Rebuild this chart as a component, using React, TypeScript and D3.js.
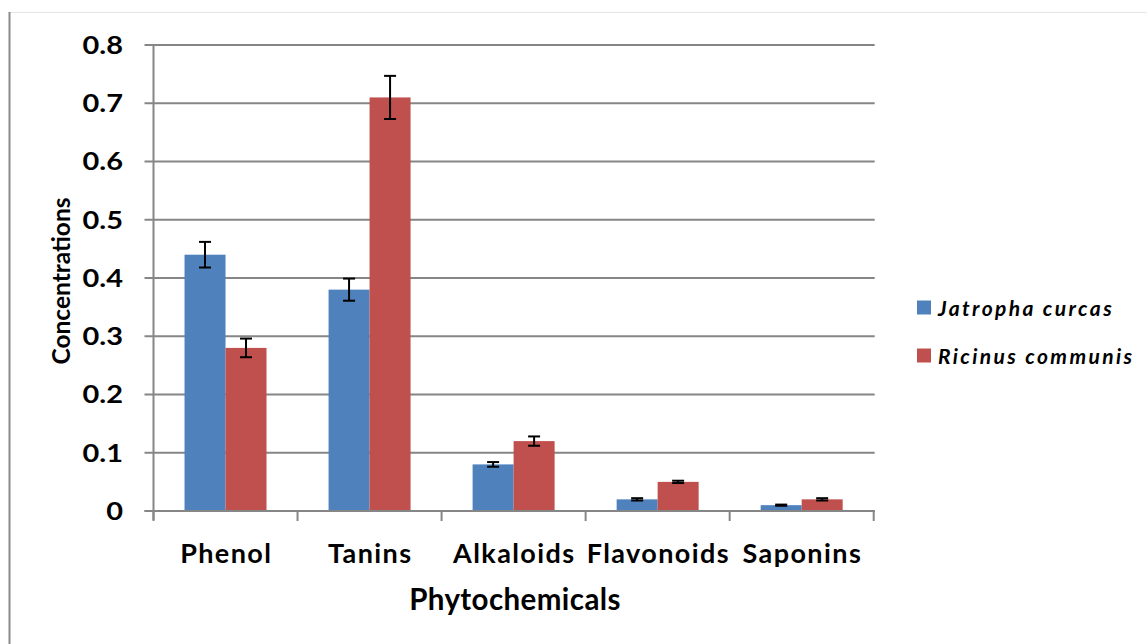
import React, { useEffect, useRef } from "react";
import * as d3 from "d3";

const categories = ["Phenol", "Tanins", "Alkaloids", "Flavonoids", "Saponins"];
const seriesNames = ["Jatropha curcas", "Ricinus communis"];
const jatropha = [0.44, 0.38, 0.08, 0.02, 0.01];
const ricinus = [0.28, 0.71, 0.12, 0.05, 0.02];
const jatrophaErr = [0.022, 0.019, 0.004, 0.002, 0.001];
const ricinusErr = [0.016, 0.037, 0.008, 0.002, 0.002];
const yTicks = [0, 0.1, 0.2, 0.3, 0.4, 0.5, 0.6, 0.7, 0.8];
const colors = ["#4F81BD", "#C0504D"];

const W = 1147;
const H = 644;
const FONT = "Lato, 'Open Sans', sans-serif";

export default function App() {
  const ref = useRef<SVGSVGElement>(null);

  useEffect(() => {
    const svg = d3.select(ref.current);
    svg.selectAll("*").remove();

    const left = 153.5, right = 873.7, top = 45, bottom = 511;
    const x = d3.scaleBand().domain(categories).range([left, right]).paddingInner(0).paddingOuter(0);
    const y = d3.scaleLinear().domain([0, 0.8]).range([bottom, top]);
    const inner = d3.scaleBand().domain(seriesNames).range([0, 82]);
    const values = [jatropha, ricinus];
    const errs = [jatrophaErr, ricinusErr];

    // frame
    svg.append("line").attr("x1", 8).attr("x2", W).attr("y1", 12.5).attr("y2", 12.5)
      .attr("stroke", "#e6e6e6").attr("stroke-width", 1);
    svg.append("line").attr("x1", 9.5).attr("x2", 9.5).attr("y1", 12).attr("y2", H)
      .attr("stroke", "#8a8a8a").attr("stroke-width", 2);

    // gridlines + y ticks
    const g = svg.append("g");
    yTicks.forEach((t) => {
      g.append("line").attr("x1", left - 9).attr("x2", right + 1).attr("y1", y(t)).attr("y2", y(t))
        .attr("stroke", "#868686").attr("stroke-width", 2);
      g.append("text")
        .attr("transform", `translate(123,${y(t)}) scale(1.18,1)`)
        .attr("dy", "0.36em")
        .attr("text-anchor", "end").attr("font-family", FONT).attr("font-weight", "bold")
        .attr("font-size", 24.5).attr("fill", "#000").text(t === 0 ? "0" : d3.format(".1f")(t));
    });
    // y axis line
    g.append("line").attr("x1", left).attr("x2", left).attr("y1", top).attr("y2", bottom + 9)
      .attr("stroke", "#868686").attr("stroke-width", 2);
    // x ticks
    const bounds = categories.map((c) => x(c)!).concat([right]);
    bounds.forEach((b) => {
      g.append("line").attr("x1", b).attr("x2", b).attr("y1", bottom).attr("y2", bottom + 10)
        .attr("stroke", "#868686").attr("stroke-width", 2);
    });

    // bars
    const bw = x.bandwidth();
    categories.forEach((c, i) => {
      const gx = x(c)! + (bw - 82) / 2;
      seriesNames.forEach((s, k) => {
        const v = values[k][i];
        const bx = gx + inner(s)!;
        const w = inner.bandwidth();
        svg.append("rect").attr("x", bx).attr("y", y(v)).attr("width", w).attr("height", y(0) - y(v))
          .attr("fill", colors[k]);
      });
    });
    // redraw baseline over bars
    svg.append("line").attr("x1", left - 9).attr("x2", right + 1).attr("y1", y(0)).attr("y2", y(0))
      .attr("stroke", "#868686").attr("stroke-width", 2);

    // error bars
    categories.forEach((c, i) => {
      const gx = x(c)! + (bw - 82) / 2;
      seriesNames.forEach((s, k) => {
        const v = values[k][i];
        const e = errs[k][i];
        const cx = gx + inner(s)! + inner.bandwidth() / 2;
        const y1 = y(v + e), y2 = y(v - e);
        svg.append("line").attr("x1", cx).attr("x2", cx).attr("y1", y1).attr("y2", y2)
          .attr("stroke", "#000").attr("stroke-width", 2);
        [y1, y2].forEach((yy) => {
          svg.append("line").attr("x1", cx - 6).attr("x2", cx + 6).attr("y1", yy).attr("y2", yy)
            .attr("stroke", "#000").attr("stroke-width", 2);
        });
      });
    });

    // category labels
    categories.forEach((c) => {
      svg.append("text").attr("x", x(c)! + bw / 2 + 0.7).attr("y", 562.5)
        .attr("text-anchor", "middle").attr("font-family", FONT).attr("font-weight", "bold")
        .attr("font-size", 27).attr("letter-spacing", 1.4).attr("fill", "#000").text(c);
    });

    // axis titles
    svg.append("text").attr("x", 515).attr("y", 610).attr("text-anchor", "middle")
      .attr("font-family", FONT).attr("font-weight", "bold").attr("font-size", 29.5)
      .attr("letter-spacing", 0.4).text("Phytochemicals");
    svg.append("text").attr("transform", "translate(70,281) rotate(-90)").attr("text-anchor", "middle")
      .attr("font-family", FONT).attr("font-weight", "bold").attr("font-size", 24.5).text("Concentrations");

    // legend
    seriesNames.forEach((s, k) => {
      const base = 316 + k * 48;
      svg.append("rect").attr("x", 917).attr("y", base - 15.5).attr("width", 14).attr("height", 14).attr("fill", colors[k]);
      svg.append("text").attr("x", 938).attr("y", base)
        .attr("font-family", FONT).attr("font-weight", "bold").attr("font-style", "italic")
        .attr("font-size", 21).attr("letter-spacing", 2.4).text(s);
    });
  }, []);

  return (
    <svg ref={ref} width={W} height={H} style={{ position: "absolute", left: 0, top: 0, background: "#fff" }} />
  );
}
